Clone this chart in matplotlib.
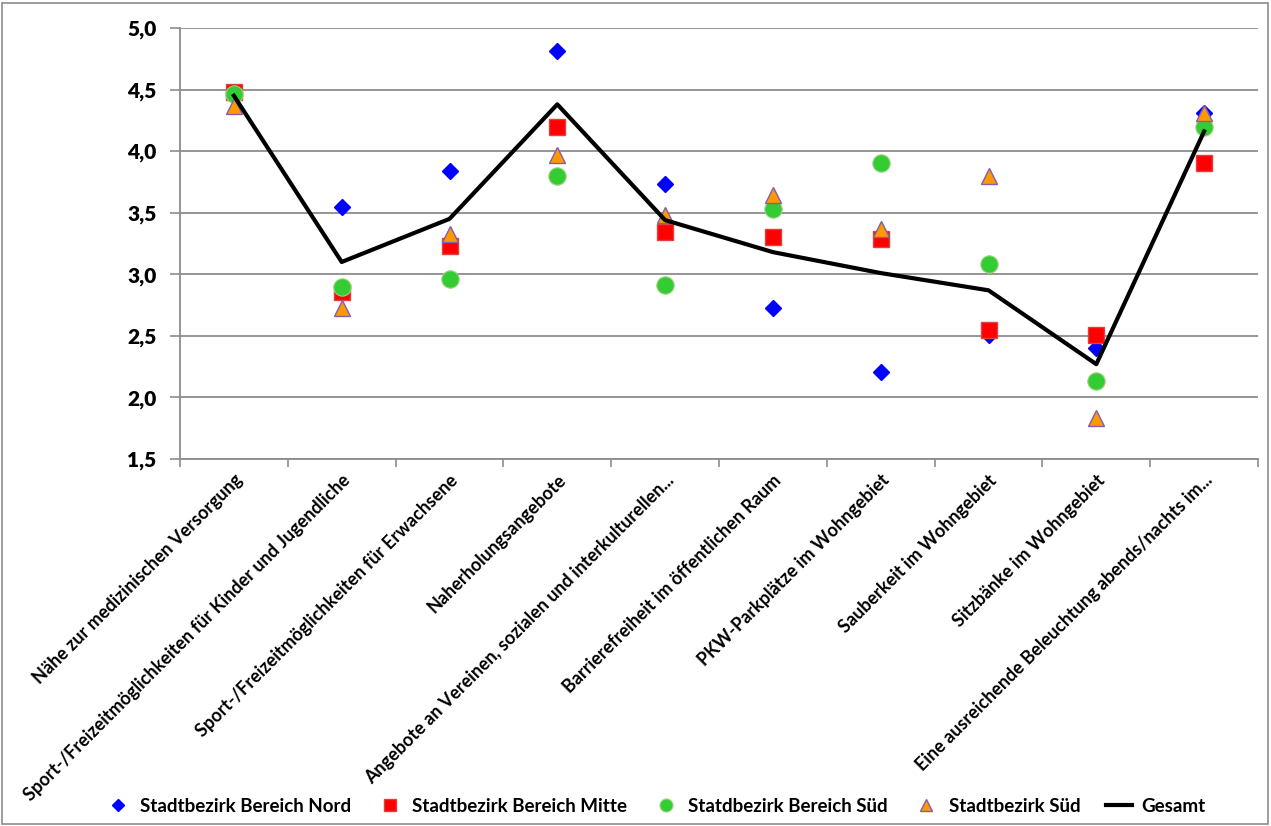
import matplotlib
matplotlib.use("Agg")
import matplotlib.pyplot as plt
from matplotlib.patches import Rectangle
import numpy as np

categories = [
    "Nähe zur medizinischen Versorgung",
    "Sport-/Freizeitmöglichkeiten für Kinder und Jugendliche",
    "Sport-/Freizeitmöglichkeiten für Erwachsene",
    "Naherholungsangebote",
    "Angebote an Vereinen, sozialen und interkulturellen...",
    "Barrierefreiheit im öffentlichen Raum",
    "PKW-Parkplätze im Wohngebiet",
    "Sauberkeit im Wohngebiet",
    "Sitzbänke im Wohngebiet",
    "Eine ausreichende Beleuchtung abends/nachts im...",
]
nord = [4.47, 3.55, 3.84, 4.81, 3.73, 2.73, 2.21, 2.51, 2.40, 4.31]
mitte = [4.48, 2.86, 3.23, 4.20, 3.34, 3.30, 3.29, 2.55, 2.51, 3.90]
sued_bereich = [4.46, 2.90, 2.96, 3.80, 2.91, 3.53, 3.90, 3.08, 2.13, 4.20]
sued = [4.37, 2.73, 3.33, 3.97, 3.48, 3.64, 3.37, 3.80, 1.83, 4.31]
gesamt = [4.45, 3.10, 3.45, 4.38, 3.44, 3.18, 3.01, 2.87, 2.27, 4.16]
yticks = [1.5, 2.0, 2.5, 3.0, 3.5, 4.0, 4.5, 5.0]

plt.rcParams['font.family'] = ['Lato', 'DejaVu Sans']
plt.rcParams['font.weight'] = 'bold'

W, H = 1271, 826
fig = plt.figure(figsize=(W / 100, H / 100), dpi=100)
ax = fig.add_axes([180 / W, 1 - 459 / H, (1258 - 180) / W, (459 - 28) / H])

fig.patches.append(Rectangle((2 / W, 2 / H), (W - 5) / W, (H - 5) / H,
                             transform=fig.transFigure, fill=False,
                             edgecolor='#8c8c8c', linewidth=1.2))

x = np.arange(len(categories))
ax.plot(x, nord, linestyle='none', marker='D', markersize=8.5,
        color='#0000ff', markeredgecolor='#0000ff', label='Stadtbezirk Bereich Nord', zorder=3)
ax.plot(x, mitte, linestyle='none', marker='s', markersize=12,
        color='#ff0000', markeredgecolor='#e04040', label='Stadtbezirk Bereich Mitte', zorder=3)
ax.plot(x, sued_bereich, linestyle='none', marker='o', markersize=12.5,
        color='#33cc33', markeredgecolor='#a0d080', markeredgewidth=0.8,
        label='Statdbezirk Bereich Süd', zorder=3)
ax.plot(x, sued, linestyle='none', marker='^', markersize=11,
        color='#ff9900', markeredgecolor='#7f5fb0', markeredgewidth=1.0,
        label='Stadtbezirk Süd', zorder=3)
ax.plot(x, gesamt, color='black', linewidth=3, label='Gesamt', zorder=4)

ax.set_xlim(-0.5, len(categories) - 0.5)
ax.set_ylim(1.5, 5.0)
ax.set_yticks(yticks)
ax.set_yticklabels([f"{v:.1f}".replace('.', ',') for v in yticks],
                   fontsize=15, fontweight='heavy')
ax.yaxis.grid(True, color='#8c8c8c', linewidth=1.3)
ax.set_axisbelow(True)
ax.tick_params(axis='y', length=7, width=1.2, color='#8c8c8c', pad=10)

ax.set_xticks(x)
ax.set_xticklabels(categories, rotation=45, ha='right', rotation_mode='anchor',
                   fontsize=13, fontweight='bold')
ax.tick_params(axis='x', length=0, pad=9)
ax.set_xticks(np.arange(-0.5, len(categories), 1.0), minor=True)
ax.tick_params(axis='x', which='minor', length=6, color='#8c8c8c', width=1.2)

for s in ['top', 'right']:
    ax.spines[s].set_visible(False)
for s in ['left', 'bottom']:
    ax.spines[s].set_color('#8c8c8c')
    ax.spines[s].set_linewidth(1.3)

leg = fig.legend(loc='center', bbox_to_anchor=(655 / W, 1 - 806 / H), ncol=5,
                 frameon=False, fontsize=13.5, handlelength=1.4, columnspacing=1.35,
                 handletextpad=0.5, markerscale=0.75)
for t in leg.get_texts():
    t.set_fontweight('bold')

fig.savefig('out.png', dpi=100)
